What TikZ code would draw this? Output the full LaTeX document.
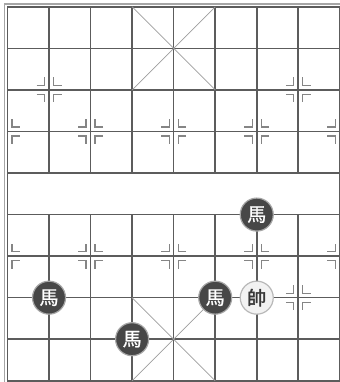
\documentclass[tikz,border=0pt]{standalone}
\usepackage{fontspec}
\newfontfamily\cjk[FakeBold=1.2]{Noto Sans CJK TC}
\newfontfamily\cjkb[FakeBold=2]{Noto Sans CJK TC}
\begin{document}
\begin{tikzpicture}[x=41.55pt,y=-41.55pt,
  gridline/.style={draw=black!64,line width=1.6pt},
  frameline/.style={draw=black!35,line width=1.4pt},
  diag/.style={draw=black!38,line width=0.7pt},
  marker/.style={draw=black!48,line width=1.3pt},
  blackpiece/.style={circle,minimum size=33pt,inner sep=0pt,fill=black!72,draw=black!35,line width=1.2pt,text=white,font=\cjk\fontsize{19}{19}\selectfont},
  redpiece/.style={circle,minimum size=33pt,inner sep=0pt,fill=black!5,draw=black!28,line width=1.2pt,text=black!78,font=\cjkb\fontsize{19}{19}\selectfont}]
\useasboundingbox (-0.18,-0.165) rectangle (7.998,9.03);
\fill[white] (-0.18,-0.165) rectangle (7.998,9.03);
% outer frame
\draw[frameline] (8.3,-0.065) -- (-0.07,-0.065) -- (-0.07,9.3);
% horizontal lines
\foreach \r in {0,...,9} \draw[gridline] (0,\r) -- (8,\r);
% vertical edges
\draw[gridline] (0,0) -- (0,9);
\draw[gridline] (8,0) -- (8,9);
% vertical interior
\foreach \c in {1,...,7} {
  \draw[gridline] (\c,0) -- (\c,4);
  \draw[gridline] (\c,5) -- (\c,9);
}
% palaces
\draw[diag] (3,0) -- (5,2) (5,0) -- (3,2);
\draw[diag] (3,7) -- (5,9) (5,7) -- (3,9);
% markers: right halves
\foreach \px/\py in {1/2,7/2,2/3,4/3,6/3,2/6,4/6,6/6,1/7,7/7,0/3,0/6}
  \foreach \sy in {-1,1}
    \draw[marker] ([shift={(12.5pt,\sy*4.5pt)}]\px,\py) -- ([shift={(4.5pt,\sy*4.5pt)}]\px,\py) -- ([shift={(4.5pt,\sy*12.5pt)}]\px,\py);
% markers: left halves
\foreach \px/\py in {1/2,7/2,2/3,4/3,6/3,2/6,4/6,6/6,1/7,7/7,8/3,8/6}
  \foreach \sy in {-1,1}
    \draw[marker] ([shift={(-12.5pt,\sy*4.5pt)}]\px,\py) -- ([shift={(-4.5pt,\sy*4.5pt)}]\px,\py) -- ([shift={(-4.5pt,\sy*12.5pt)}]\px,\py);
% pieces
\node[blackpiece] (h1) at (6,5) {馬};
\node[blackpiece] (h2) at (1,7) {馬};
\node[blackpiece] (h3) at (5,7) {馬};
\node[blackpiece] (h4) at (3,8) {馬};
\node[redpiece] (k1) at (6,7) {帥};
\end{tikzpicture}
\end{document}
